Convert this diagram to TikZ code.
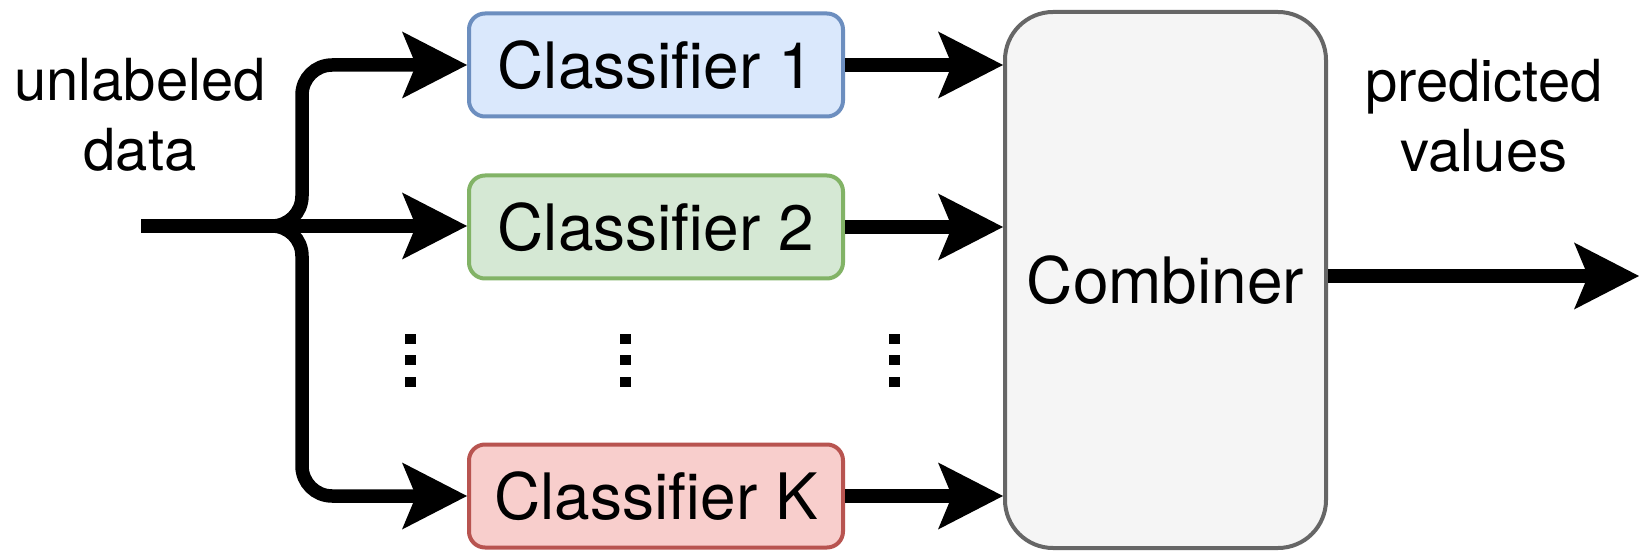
\documentclass[tikz,border=0pt]{standalone}
\usepackage{fontspec}
\setmainfont{TeX Gyre Heros}
\usetikzlibrary{arrows.meta}

\definecolor{blueFill}{HTML}{DAE8FC}
\definecolor{blueLine}{HTML}{6C8EBF}
\definecolor{greenFill}{HTML}{D5E8D4}
\definecolor{greenLine}{HTML}{82B366}
\definecolor{redFill}{HTML}{F8CECC}
\definecolor{redLine}{HTML}{B85450}
\definecolor{greyFill}{HTML}{F5F5F5}
\definecolor{greyLine}{HTML}{666666}

\tikzset{
  bigtext/.style={font=\fontsize{64}{70.5}\selectfont},
  lbltext/.style={font=\fontsize{58}{70.5}\selectfont},
  clsbox/.style={draw, line width=4pt, rounded corners=16pt,
    minimum width=374pt, minimum height=103pt, inner sep=0pt, bigtext},
  combbox/.style={draw=greyLine, fill=greyFill, line width=4pt,
    rounded corners=48pt, minimum width=321pt, minimum height=536pt,
    inner sep=0pt, bigtext},
  lbl/.style={lbltext, align=center, inner sep=0pt},
  flow/.style={line width=13.5pt, rounded corners=30pt,
    -{Stealth[length=65pt,width=67pt,inset=14pt,line width=0pt]}},
  dotsq/.style={fill=black},
}

\begin{document}
\begin{tikzpicture}[x=1pt,y=-1pt]
  % canvas
  \path[fill=white] (0,0) rectangle (1639,553);
  \useasboundingbox (0,0) rectangle (1639,553);

  % ensemble members
  \node[clsbox, draw=blueLine,  fill=blueFill]  (c1) at (656,65)  {Classifier 1};
  \node[clsbox, draw=greenLine, fill=greenFill] (c2) at (656,227) {Classifier 2};
  \node[clsbox, draw=redLine,   fill=redFill]   (ck) at (656,496) {Classifier K};

  % combiner
  \node[combbox] (comb) at (1165.5,280) {Combiner};

  % input and output labels (base anchor sits on the second line)
  \node[lbl, anchor=base] (inlbl)  at (140,171) {unlabeled\\data};
  \node[lbl, anchor=base] (outlbl) at (1484,172) {predicted\\values};

  % input fan-out
  \coordinate (in) at (141,226);
  \coordinate (j)  at (302,226);
  \draw[flow] (in) -| (j |- c1.west) -- (c1.west);
  \draw[flow] (in) -- (in -| c2.west);
  \draw[flow] (in) -| (j |- ck.west) -- (ck.west);

  % classifier outputs into the combiner
  \draw[flow] (c1.east) -- (c1.east -| comb.west);
  \draw[flow] (c2.east) -- (c2.east -| comb.west);
  \draw[flow] (ck.east) -- (ck.east -| comb.west);

  % final output
  \coordinate (out) at (1639,276);
  \draw[flow] (out -| comb.east) -- (out);

  % vertical ellipses
  \foreach \x in {410,625,894}
    \foreach \y in {339.5,360.5,382}
      \fill[dotsq] (\x-5.5,\y-5) rectangle (\x+5.5,\y+5);
\end{tikzpicture}
\end{document}
